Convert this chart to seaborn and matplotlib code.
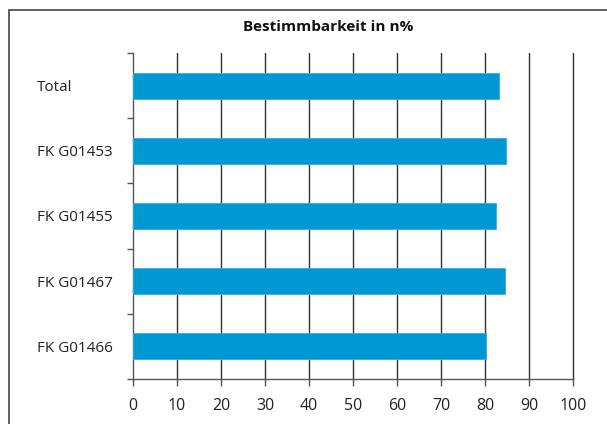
import matplotlib
matplotlib.use("Agg")
import matplotlib.pyplot as plt
import seaborn as sns
import pandas as pd
from matplotlib.patches import Rectangle

categories = ["Total", "FK G01453", "FK G01455", "FK G01467", "FK G01466"]
values = [83.2, 84.7, 82.5, 84.6, 80.2]
x_ticks = [0, 10, 20, 30, 40, 50, 60, 70, 80, 90, 100]
title = "Bestimmbarkeit in n%"

sns.set_style("white")
plt.rcParams["font.family"] = ["Open Sans", "DejaVu Sans"]

df = pd.DataFrame({"cat": categories, "val": values})

fig = plt.figure(figsize=(6.07, 4.24), dpi=100)
ax = fig.add_axes([133/607, 1-379/424, 440/607, 326/424])

sns.barplot(data=df, x="val", y="cat", orient="h", color="#0098d4",
            width=0.4, ax=ax, saturation=1, edgecolor="#33b0e0", linewidth=0.6,
            zorder=3)

ax.set_xlim(0, 100)
ax.set_ylim(4.5, -0.5)
ax.set_xticks(x_ticks)
ax.set_xticklabels([str(t) for t in x_ticks], fontsize=11.5, color="#222222")
ax.set_xlabel("")
ax.set_ylabel("")

for t in x_ticks[1:]:
    ax.axvline(t, color="#333333", linewidth=1.0, zorder=1, clip_on=False)

for s in ["top", "right"]:
    ax.spines[s].set_visible(False)
ax.spines["left"].set_color("#555555")
ax.spines["bottom"].set_color("#555555")
ax.spines["left"].set_linewidth(1.0)
ax.spines["bottom"].set_linewidth(1.0)

ax.tick_params(axis="x", direction="out", length=5, width=1, color="#555555", pad=9, bottom=True)
ax.set_yticks(range(len(categories)))
ax.set_yticklabels(categories, fontsize=11, color="#222222")
ax.tick_params(axis="y", which="major", length=0, pad=69)
for lab in ax.get_yticklabels():
    lab.set_horizontalalignment("left")
ax.set_yticks([i - 0.5 for i in range(len(categories) + 1)], minor=True)
ax.tick_params(axis="y", which="minor", direction="out", length=4, width=1, color="#555555", left=True)

fig.text(328/607, 1-27/424, title, ha="center", va="center", fontsize=11, fontweight="bold", color="#111111")

rect = Rectangle((9/607, -0.1), 1.2, 1-10/424+0.1, transform=fig.transFigure,
                 fill=False, edgecolor="#444444", linewidth=1.2)
fig.patches.append(rect)

fig.savefig("out.png", dpi=100)
